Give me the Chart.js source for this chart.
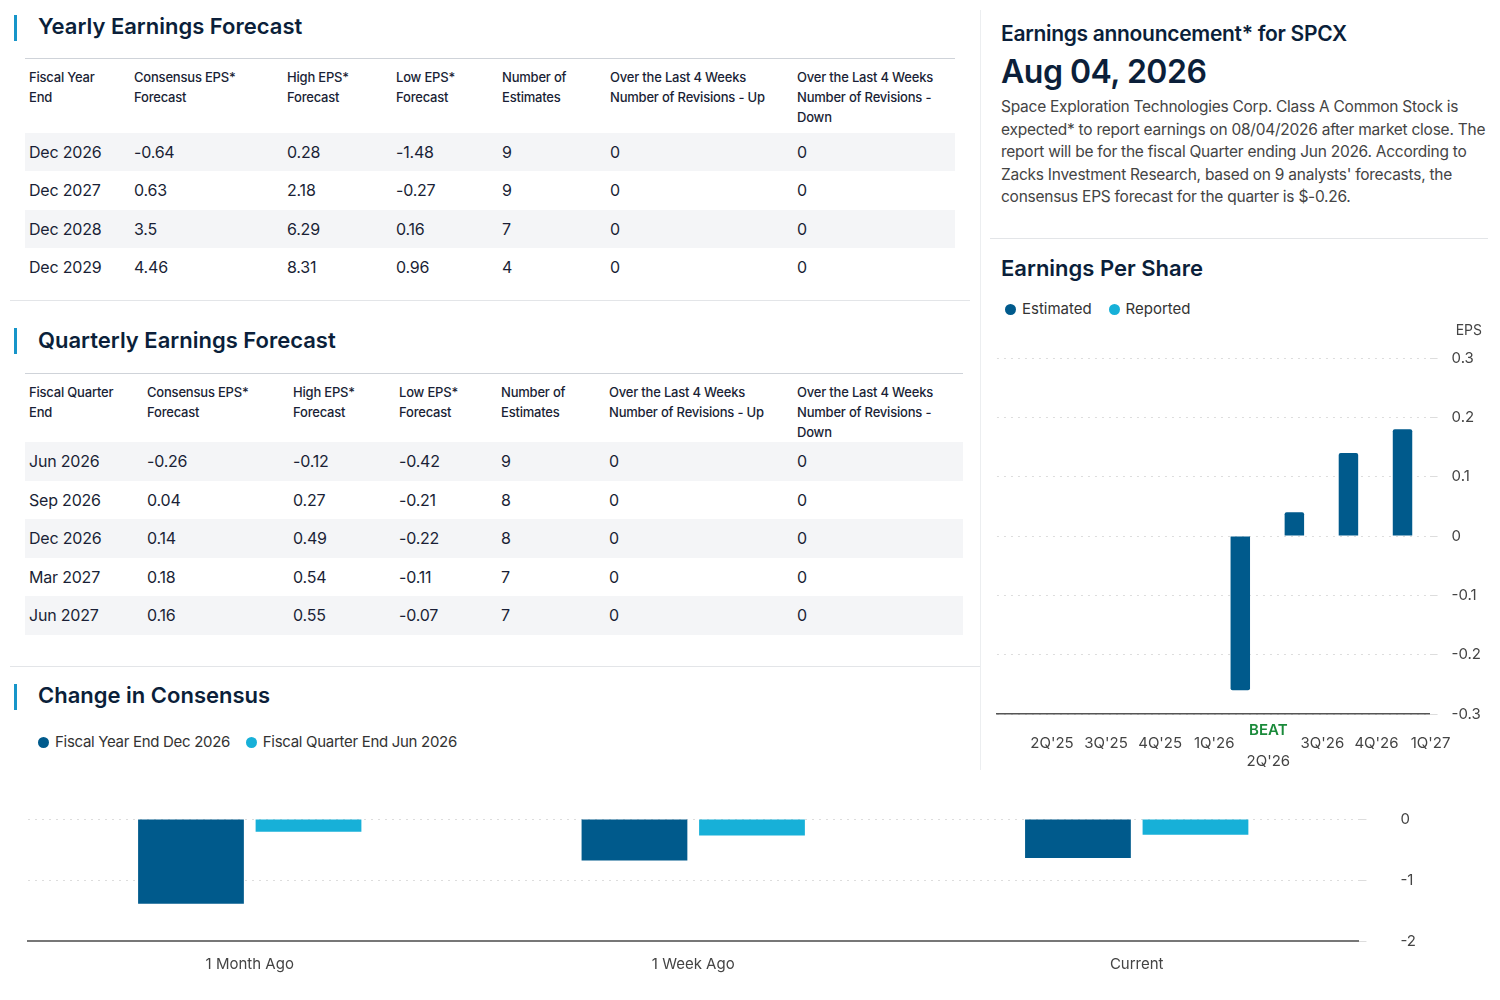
<!DOCTYPE html>
<html><head><meta charset="utf-8">
<script src="https://cdn.jsdelivr.net/npm/chart.js@4"></script>
<style>
body{margin:0;width:1500px;height:1000px;background:#fff;font-family:Inter,"Noto Sans",sans-serif;color:#1a1f36;position:relative;overflow:hidden}
.abs{position:absolute}
.h{font-size:22px;font-weight:600;color:#0b1f3a}
.bar{position:absolute;left:14px;width:3px;height:26px;background:#1795c9}
table{border-collapse:collapse;position:absolute;font-size:16px;table-layout:fixed}
th{font-size:13px;font-weight:500;text-align:left;vertical-align:top;padding:0 4px;line-height:20px;letter-spacing:-0.2px}
td{padding:0 4px;height:38.5px;letter-spacing:-0.2px}
tr.s td{background:#f4f5f7}
thead tr{border-top:1px solid #cfd3d9}
.leg{font-size:15px;color:#333}
.dot{display:inline-block;width:11px;height:11px;border-radius:50%;margin-right:6px;vertical-align:-1px}
</style></head><body>
<div class="bar" style="top:15px"></div><div class="abs h" style="left:38px;top:13px">Yearly Earnings Forecast</div>
<table id="t1" style="left:25px;top:58px;width:930px"></table>
<div class="abs" style="left:10px;top:300px;width:960px;height:1px;background:#e3e5e8"></div>
<div class="bar" style="top:328px"></div><div class="abs h" style="left:38px;top:327px">Quarterly Earnings Forecast</div>
<table id="t2" style="left:25px;top:373px;width:938px"></table>
<div class="abs" style="left:10px;top:666px;width:970px;height:1px;background:#e3e5e8"></div>
<div class="bar" style="top:684px"></div><div class="abs h" style="left:38px;top:682px">Change in Consensus</div>
<div class="abs leg" style="left:38px;top:732px;letter-spacing:-0.3px"><span class="dot" style="background:#005a8c"></span>Fiscal Year End Dec 2026 &nbsp;&nbsp;&nbsp;<span class="dot" style="background:#17b0d8"></span>Fiscal Quarter End Jun 2026</div>
<div class="abs" style="left:980px;top:10px;width:1px;height:760px;background:#eceef0"></div>
<div class="abs" style="left:1001px;top:21px;font-size:21px;font-weight:600;color:#0b1f3a;letter-spacing:-0.3px">Earnings announcement* for SPCX</div>
<div class="abs" style="left:1001px;top:52px;font-size:32px;font-weight:600;color:#0b1f3a;letter-spacing:-0.5px">Aug 04, 2026</div>
<div class="abs" style="left:1001px;top:96px;width:485px;font-size:15.5px;line-height:22.5px;color:#444;letter-spacing:-0.25px">Space Exploration Technologies Corp. Class A Common Stock is expected* to report earnings on 08/04/2026 after market close. The report will be for the fiscal Quarter ending Jun 2026. According to Zacks Investment Research, based on 9 analysts' forecasts, the consensus EPS forecast for the quarter is $-0.26.</div>
<div class="abs" style="left:990px;top:238px;width:498px;height:1px;background:#e3e5e8"></div>
<div class="abs h" style="left:1001px;top:255px">Earnings Per Share</div>
<div class="abs leg" style="left:1005px;top:299px"><span class="dot" style="background:#005a8c"></span>Estimated &nbsp;&nbsp;&nbsp;<span class="dot" style="background:#17b0d8"></span>Reported</div>
<div class="abs" style="left:990px;top:318px;width:505px;height:464px"><canvas id="c1"></canvas></div>
<div class="abs" style="left:0;top:776px;width:1500px;height:208px"><canvas id="c2"></canvas></div>
<script>
const yearHead=["Fiscal Year<br>End","Consensus EPS*<br>Forecast","High EPS*<br>Forecast","Low EPS*<br>Forecast","Number of<br>Estimates","Over the Last 4 Weeks<br>Number of Revisions - Up","Over the Last 4 Weeks<br>Number of Revisions -<br>Down"];
const yearRows=[["Dec 2026","-0.64","0.28","-1.48","9","0","0"],["Dec 2027","0.63","2.18","-0.27","9","0","0"],["Dec 2028","3.5","6.29","0.16","7","0","0"],["Dec 2029","4.46","8.31","0.96","4","0","0"]];
const qHead=["Fiscal Quarter<br>End","Consensus EPS*<br>Forecast","High EPS*<br>Forecast","Low EPS*<br>Forecast","Number of<br>Estimates","Over the Last 4 Weeks<br>Number of Revisions - Up","Over the Last 4 Weeks<br>Number of Revisions - Down"];
const qRows=[["Jun 2026","-0.26","-0.12","-0.42","9","0","0"],["Sep 2026","0.04","0.27","-0.21","8","0","0"],["Dec 2026","0.14","0.49","-0.22","8","0","0"],["Mar 2027","0.18","0.54","-0.11","7","0","0"],["Jun 2027","0.16","0.55","-0.07","7","0","0"]];
const yWidths=[105,153,109,106,108,187,162], qWidths=[118,146,106,102,108,188,170];
function build(id,head,rows,w,hh){let h='<thead><tr style="height:'+hh+'px">'+head.map((x,i)=>'<th style="width:'+(w[i]-8)+'px;padding-top:8px">'+x+'</th>').join('')+'</tr></thead><tbody>';
rows.forEach((r,i)=>{h+='<tr class="'+(i%2==0?'s':'')+'">'+r.map(c=>'<td>'+c+'</td>').join('')+'</tr>'});document.getElementById(id).innerHTML=h+'</tbody>';}
build('t1',yearHead,yearRows,yWidths,74);build('t2',qHead,qRows,qWidths,58);

const epsQuarters=["2Q'25","3Q'25","4Q'25","1Q'26","2Q'26","3Q'26","4Q'26","1Q'27"];
const epsEstimated=[null,null,null,null,-0.26,0.04,0.14,0.18];
const epsTicks=[-0.3,-0.2,-0.1,0,0.1,0.2,0.3];
const beatPlugin={id:'beat',afterDraw(ch){const x=ch.scales.x,c=ch.ctx;const px=x.getPixelForValue(4)+28;c.save();c.font='600 15px Inter';c.fillStyle='#1a8a3a';c.textAlign='center';c.fillText('BEAT',px,x.top+21);c.restore();}};
new Chart(document.getElementById('c1'),{type:'bar',data:{labels:epsQuarters,datasets:[{label:'Estimated',data:epsEstimated,backgroundColor:'#005a8c',borderRadius:2,barPercentage:0.36,categoryPercentage:1}]},
options:{responsive:true,maintainAspectRatio:false,animation:false,layout:{padding:{left:5,top:40,bottom:0}},plugins:{legend:{display:false},tooltip:{enabled:false}},
scales:{x:{grid:{display:false},border:{color:'#555',width:1.5},ticks:{color:'#444',font:{size:15,family:'Inter'},labelOffset:28,padding:12,maxRotation:0,autoSkip:false,callback:(v,i)=>i==4?['',epsQuarters[i]]:epsQuarters[i]}},
y:{position:'right',min:-0.3,max:0.3,afterBuildTicks:a=>{a.ticks=epsTicks.map(v=>({value:v}))},grid:{color:'#ddd'},border:{display:false,dash:[2,5]},ticks:{color:'#444',font:{size:15,family:'Inter'},padding:14,callback:v=>v==0?'0':(Math.round(v*10)/10).toString()}}}},
plugins:[beatPlugin,{id:'epsT',afterDraw(ch){const c=ch.ctx;c.save();c.font='14px Inter';c.fillStyle='#444';c.textAlign='right';c.fillText('EPS',492,17);c.restore();}}]});

const consCats=["1 Month Ago","1 Week Ago","Current"];
const consYear=[-1.39,-0.68,-0.64];
const consQuarter=[-0.21,-0.27,-0.26];
new Chart(document.getElementById('c2'),{type:'bar',data:{labels:consCats,datasets:[{label:'Fiscal Year End Dec 2026',data:consYear,backgroundColor:'#005a8c',categoryPercentage:0.53,barPercentage:0.9},{label:'Fiscal Quarter End Jun 2026',data:consQuarter,backgroundColor:'#17b0d8',categoryPercentage:0.53,barPercentage:0.9}]},
options:{responsive:true,maintainAspectRatio:false,animation:false,layout:{padding:{left:28,top:2,right:50}},plugins:{legend:{display:false},tooltip:{enabled:false}},
scales:{x:{grid:{display:false},border:{color:'#777',width:2},ticks:{color:'#444',font:{size:15,family:'Inter'},padding:6}},
y:{position:'right',min:-2,max:0,ticks:{stepSize:1,color:'#444',font:{size:15,family:'Inter'},padding:34},grid:{color:'#ddd'},border:{display:false,dash:[2,5]}}}}});
</script></body></html>
